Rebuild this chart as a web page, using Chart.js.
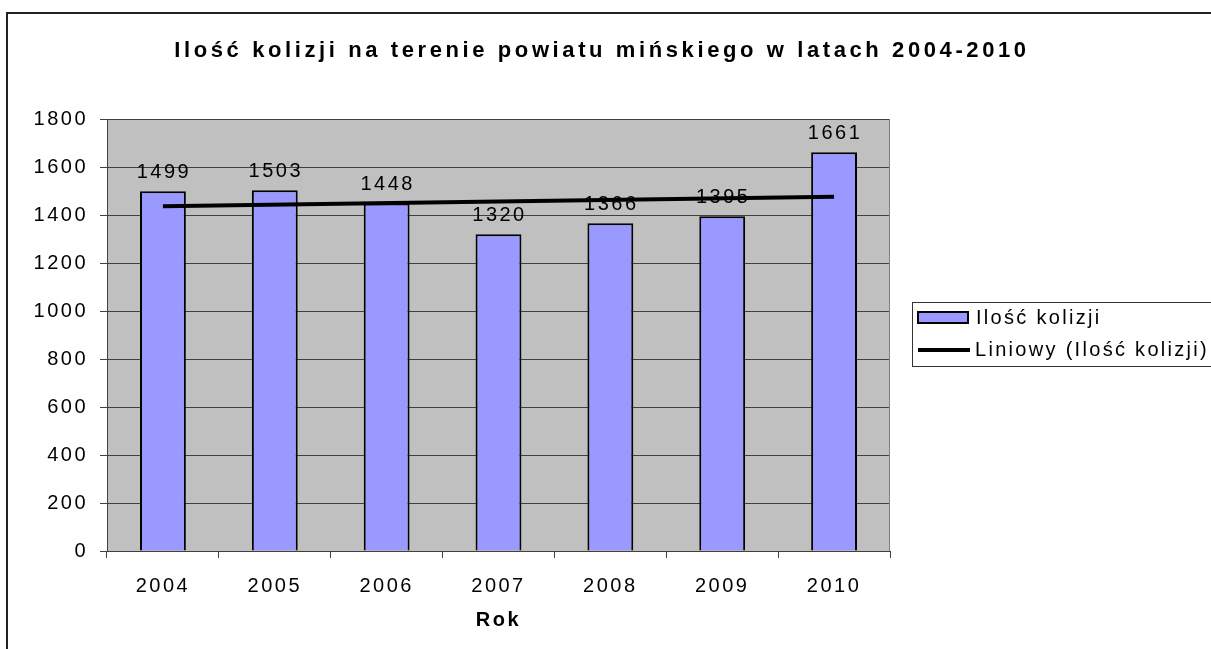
<!DOCTYPE html>
<html>
<head>
<meta charset="utf-8">
<script src="https://cdn.jsdelivr.net/npm/chart.js@4"></script>
<style>
    body { margin: 0; background: #fff; }
    canvas { display: block; }
</style>
</head>
<body>
<canvas id="chart" width="1211" height="649"></canvas>
<script>
const chartTitle = 'Ilość kolizji na terenie powiatu mińskiego w latach 2004-2010';
const years = ['2004', '2005', '2006', '2007', '2008', '2009', '2010'];
const collisions = [1499, 1503, 1448, 1320, 1366, 1395, 1661];
// trend line (Excel "Liniowy") at its two ends
const trendValues = [1436, null, null, null, null, null, 1476];
const seriesLabels = ['Ilość kolizji', 'Liniowy (Ilość kolizji)'];

const FONT = '"Liberation Sans", Arial, sans-serif';
const BAR_FILL = '#9999ff';

// white page, outer frame and grey plot area
const background = {
    id: 'background',
    beforeDraw(chart) {
        const { ctx, chartArea: a } = chart;
        ctx.save();
        ctx.fillStyle = '#fff';
        ctx.fillRect(0, 0, chart.width, chart.height);
        ctx.strokeStyle = '#222';
        ctx.lineWidth = 2;
        ctx.strokeRect(7, 13, chart.width + 20, chart.height + 20);
        ctx.fillStyle = '#c0c0c0';
        ctx.fillRect(a.left, a.top, a.right - a.left, a.bottom - a.top);
        ctx.restore();
        ctx.letterSpacing = '2.5px';
    },
    afterDatasetDraw(chart, args) {
        if (args.index !== 0) return;
        const ctx = chart.ctx;
        ctx.save();
        ctx.font = `20px ${FONT}`;
        ctx.letterSpacing = '2.5px';
        ctx.fillStyle = '#000';
        ctx.textAlign = 'center';
        ctx.textBaseline = 'alphabetic';
        args.meta.data.forEach((bar, i) => {
            ctx.fillText(String(collisions[i]), bar.x + 1, bar.y - 13);
        });
        ctx.restore();
    },
    afterDraw(chart) {
        const { ctx, chartArea: a } = chart;
        ctx.save();
        // right edge of plot area
        ctx.strokeStyle = '#808080';
        ctx.lineWidth = 1;
        ctx.beginPath();
        ctx.moveTo(a.right - 0.5, a.top);
        ctx.lineTo(a.right - 0.5, a.bottom);
        ctx.stroke();

        // title
        ctx.fillStyle = '#000';
        ctx.font = `bold 22px ${FONT}`;
        ctx.letterSpacing = '3.6px';
        ctx.textAlign = 'center';
        ctx.textBaseline = 'middle';
        ctx.fillText(chartTitle, 602, 51);

        // legend box
        ctx.strokeStyle = '#333';
        ctx.lineWidth = 1;
        ctx.strokeRect(912.5, 302.5, 320, 64);
        ctx.fillStyle = BAR_FILL;
        ctx.fillRect(918, 312, 50, 11);
        ctx.strokeStyle = '#000';
        ctx.lineWidth = 2;
        ctx.strokeRect(918, 312, 50, 11);
        ctx.lineWidth = 4;
        ctx.beginPath();
        ctx.moveTo(918, 350);
        ctx.lineTo(970, 350);
        ctx.stroke();
        ctx.fillStyle = '#000';
        ctx.font = `20px ${FONT}`;
        ctx.letterSpacing = '2.3px';
        ctx.textAlign = 'left';
        ctx.fillText(seriesLabels[0], 976, 318);
        ctx.fillText(seriesLabels[1], 975, 350);
        ctx.restore();
    }
};

new Chart(document.getElementById('chart'), {
    type: 'bar',
    data: {
        labels: years,
        datasets: [{
            label: seriesLabels[0],
            data: collisions,
            backgroundColor: BAR_FILL,
            borderColor: '#000',
            borderWidth: 2,
            barPercentage: 0.41,
            categoryPercentage: 1,
            order: 1
        }, {
            type: 'line',
            label: seriesLabels[1],
            data: trendValues,
            spanGaps: true,
            borderColor: '#000',
            borderWidth: 4,
            pointRadius: 0,
            fill: false,
            order: 0
        }]
    },
    options: {
        responsive: false,
        animation: false,
        devicePixelRatio: 1,
        layout: { padding: { left: 0, top: 119, right: 321, bottom: 0 } },
        plugins: {
            legend: { display: false },
            title: { display: false },
            tooltip: { enabled: false }
        },
        scales: {
            x: {
                grid: { offset: true, drawOnChartArea: false, tickLength: 7, color: '#404040' },
                border: { color: '#404040' },
                ticks: { font: { family: FONT, size: 20 }, color: '#000', padding: 16, maxRotation: 0 },
                title: {
                    display: true,
                    text: 'Rok',
                    color: '#000',
                    font: { family: FONT, size: 20, weight: 'bold' },
                    padding: { top: 0, bottom: 17 }
                },
                afterFit: s => { s.height = 98; }
            },
            y: {
                min: 0,
                max: 1800,
                ticks: {
                    stepSize: 200,
                    font: { family: FONT, size: 20 },
                    color: '#000',
                    padding: 12,
                    callback: v => String(v)
                },
                grid: { color: '#404040', tickLength: 7 },
                border: { color: '#404040' },
                afterFit: s => { s.width = 107; }
            }
        }
    },
    plugins: [background]
});
</script>
</body>
</html>
